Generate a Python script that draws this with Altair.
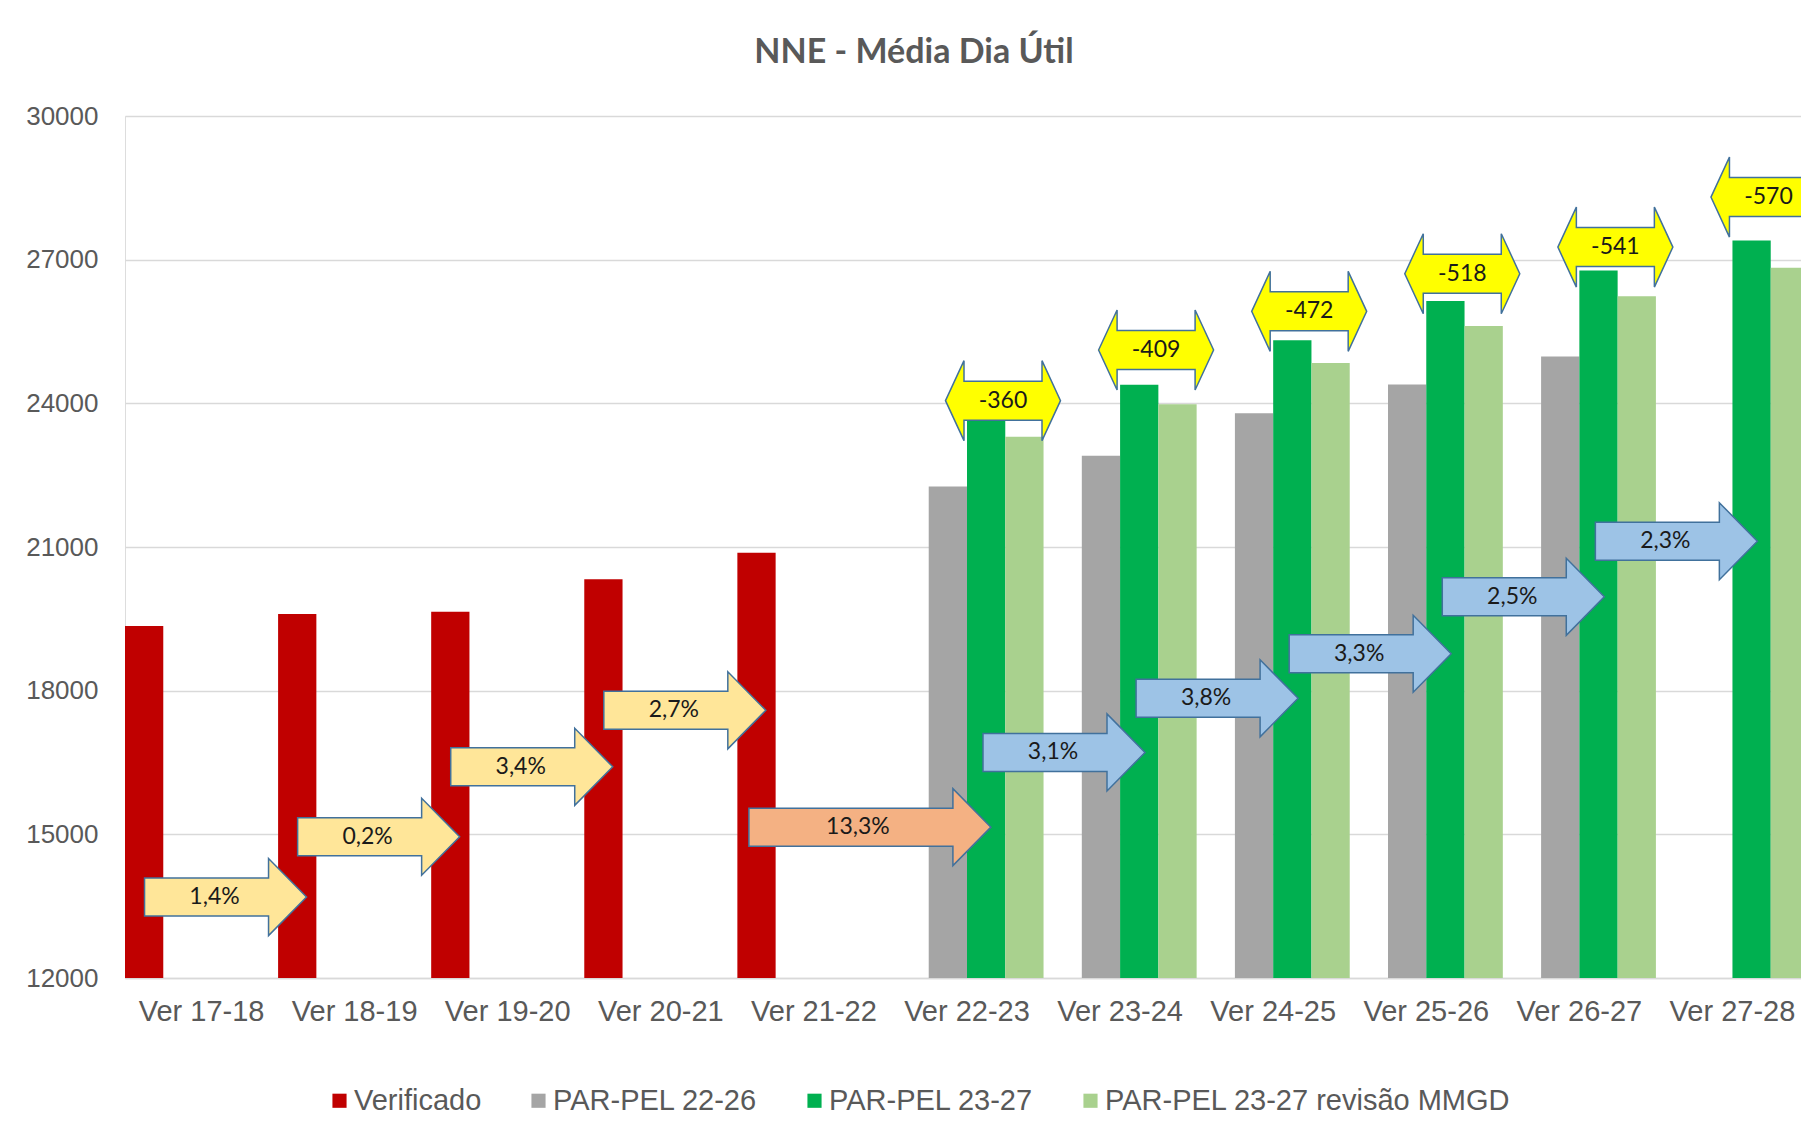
import altair as alt
import pandas as pd

# ---------------- data ----------------
categories = ["Ver 17-18", "Ver 18-19", "Ver 19-20", "Ver 20-21", "Ver 21-22", "Ver 22-23",
              "Ver 23-24", "Ver 24-25", "Ver 25-26", "Ver 26-27", "Ver 27-28"]
series_names = ["Verificado", "PAR-PEL 22-26", "PAR-PEL 23-27", "PAR-PEL 23-27 revisão MMGD"]
series_colors = ["#C00000", "#A5A5A5", "#00B050", "#A9D18E"]

verificado = [19350, 19600, 19650, 20325, 20880, None, None, None, None, None, None]
par_pel_22_26 = [None, None, None, None, None, 22265, 22905, 23795, 24395, 24980, None]
par_pel_23_27 = [None, None, None, None, None, 23660, 24390, 25315, 26135, 26775, 27400]
par_pel_23_27_mmgd = [None, None, None, None, None, 23300, 23980, 24843, 25617, 26234, 26830]

growth_from = ["Ver 17-18", "Ver 18-19", "Ver 19-20", "Ver 20-21", "Ver 21-22",
               "Ver 22-23", "Ver 23-24", "Ver 24-25", "Ver 25-26", "Ver 26-27"]
growth_labels = ["1,4%", "0,2%", "3,4%", "2,7%", "13,3%", "3,1%", "3,8%", "3,3%", "2,5%", "2,3%"]
growth_level = [13690, 14950, 16410, 17590, 15150, 16710, 17840, 18770, 19960, 21120]
growth_kind = ["verificado", "verificado", "verificado", "verificado", "transicao",
               "projecao", "projecao", "projecao", "projecao", "projecao"]

diff_cats = ["Ver 22-23", "Ver 23-24", "Ver 24-25", "Ver 25-26", "Ver 26-27", "Ver 27-28"]
diff_labels = ["-360", "-409", "-472", "-518", "-541", "-570"]
diff_level = [24056, 25114, 25921, 26706, 27262, 28306]

y_ticks = [12000, 15000, 18000, 21000, 24000, 27000, 30000]

# ---------------- tables ----------------
rows = []
for name, vals in zip(series_names, [verificado, par_pel_22_26, par_pel_23_27, par_pel_23_27_mmgd]):
    for c, v in zip(categories, vals):
        if v is not None:
            rows.append({"categoria": c, "serie": name, "valor": v})
bar_df = pd.DataFrame(rows)

growth_df = pd.DataFrame({"categoria": growth_from, "rotulo": growth_labels,
                          "nivel": growth_level, "tipo": growth_kind})
diff_df = pd.DataFrame({"categoria": diff_cats, "rotulo": diff_labels, "nivel": diff_level})

# ---------------- styles ----------------
GRAY_TXT = "#595959"
OUTLINE = "#41719C"
RIGHT_ARROW = "M-81,-19L43,-19L43,-38.5L81,0L43,38.5L43,19L-81,19Z"
LONG_ARROW = "M-121,-19L83,-19L83,-38.5L121,0L83,38.5L83,19L-121,19Z"
DOUBLE_ARROW = "M-57.5,0L-39,-40L-39,-19.5L39,-19.5L39,-40L57.5,0L39,40L39,19.5L-39,19.5L-39,40Z"

PLOT_W = 1676      # visible plot width (page is 1793 px wide inside its margins)
BAND_SPAN = 1684   # the 11 categories run a little past the right edge, as in the original

x_scale = alt.Scale(domain=categories, paddingInner=0, paddingOuter=0, range=[0, BAND_SPAN])
y_scale = alt.Scale(domain=[12000, 30000], nice=False, zero=False)

x_enc = alt.X("categoria:N", sort=categories, scale=x_scale, title=None,
              axis=alt.Axis(labelFont="Liberation Sans", labelFontSize=29, labelColor=GRAY_TXT,
                            labelPadding=19, ticks=False, domain=True, domainColor="#D9D9D9",
                            domainWidth=1.5, grid=False, labelAngle=0))
y_enc = alt.Y("valor:Q", scale=y_scale, title=None,
              axis=alt.Axis(values=y_ticks, labelFont="Liberation Sans", labelFontSize=26,
                            labelColor=GRAY_TXT, labelPadding=27, ticks=False, domain=False,
                            grid=True, gridColor="#D9D9D9", gridWidth=1.5, format="d"))

bars = alt.Chart(bar_df).mark_bar().encode(
    x=x_enc,
    xOffset=alt.XOffset("serie:N", sort=series_names,
                        scale=alt.Scale(domain=series_names, paddingInner=0, paddingOuter=0)),
    y=y_enc,
    y2=alt.datum(12000),
    color=alt.Color("serie:N", sort=series_names,
                    scale=alt.Scale(domain=series_names, range=series_colors),
                    legend=alt.Legend(title=None, orient="none", legendX=200, legendY=970,
                                      direction="horizontal", symbolType="square", symbolSize=200,
                                      symbolStrokeWidth=0, labelFont="Liberation Sans",
                                      labelFontSize=29, labelColor=GRAY_TXT, labelOffset=0,
                                      columnPadding=42, labelLimit=600)),
)

xa = alt.X("categoria:N", sort=categories, scale=x_scale)
ya = alt.Y("nivel:Q", scale=y_scale)


def arrow_layer(kind, shape, fill, dx):
    return alt.Chart(growth_df).transform_filter(alt.datum.tipo == kind).mark_point(
        shape=shape, size=4, filled=True, fill=fill, stroke=OUTLINE, strokeWidth=1.5,
        opacity=1, xOffset=dx
    ).encode(x=xa, y=ya)


def arrow_text(kind, dx):
    return alt.Chart(growth_df).transform_filter(alt.datum.tipo == kind).mark_text(
        font="Lato", fontSize=23, color="#1a1a1a", dx=dx, baseline="middle", align="center"
    ).encode(x=xa, y=ya, text="rotulo:N")


yellow = arrow_layer("verificado", RIGHT_ARROW, "#FFE699", 24)
orange = arrow_layer("transicao", LONG_ARROW, "#F4B183", 56)
blue = arrow_layer("projecao", RIGHT_ARROW, "#9DC3E6", 97)
yellow_t = arrow_text("verificado", 13)
orange_t = arrow_text("transicao", 44)
blue_t = arrow_text("projecao", 86)

double = alt.Chart(diff_df).mark_point(
    shape=DOUBLE_ARROW, size=4, filled=True, fill="#FFFF00", stroke=OUTLINE, strokeWidth=1.5,
    opacity=1, xOffset=36
).encode(x=xa, y=ya)
double_t = alt.Chart(diff_df).mark_text(
    font="Lato", fontSize=23, color="#1a1a1a", dx=36, baseline="middle", align="center"
).encode(x=xa, y=ya, text="rotulo:N")

chart = alt.layer(
    bars, yellow, orange, blue, double, yellow_t, orange_t, blue_t, double_t
).properties(
    width=PLOT_W, height=862,
    padding={"left": 117, "top": 108, "right": 0, "bottom": 140},
    autosize=alt.AutoSizeParams(type="none"),
    title=alt.TitleParams("NNE - Média Dia Útil", font="Lato", fontWeight="bold", fontSize=34,
                          color=GRAY_TXT, anchor="middle", frame="group", offset=6,
                          baseline="alphabetic", dx=-49),
).configure_view(stroke=None).configure(background="white")

chart.save("out.html", embed_options={"renderer": "svg", "actions": False})
